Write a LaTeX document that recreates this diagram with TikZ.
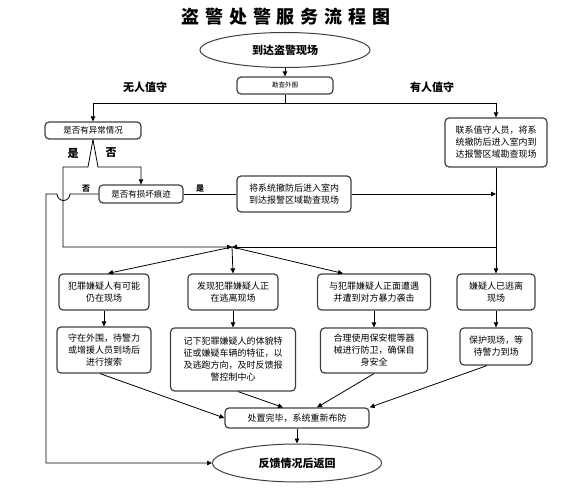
\documentclass[tikz,border=0pt]{standalone}
\usepackage{fontspec}
\setmainfont{Noto Sans CJK SC}
\usetikzlibrary{arrows.meta,shapes.geometric}
\begin{document}
\begin{tikzpicture}[x=1pt,y=-1pt,
  >={Triangle[length=5pt,width=4.5pt]},
  every path/.style={line width=0.8pt},
  box/.style={draw=black!75,line width=1.2pt,rounded corners=4pt,align=center,inner sep=1pt,
    font=\fontsize{9}{12}\selectfont},
  oval/.style={draw=black!75,line width=1pt,ellipse,inner sep=0pt,font=\bfseries\fontsize{11}{13}\selectfont},
  tag/.style={font=\bfseries\fontsize{11}{13}\selectfont},
  small/.style={font=\bfseries\fontsize{8}{10}\selectfont}]
  \useasboundingbox (0,0) rectangle (576,489);
  % title
  \node (title) at (286,17) {\bfseries\fontsize{18}{20}\selectfont\addfontfeature{LetterSpace=33}盗警处警服务流程图};
  % top part
  \node[oval,minimum width=170pt,minimum height=35pt] (start) at (285,50) {到达盗警现场};
  \node[box,minimum width=96pt,minimum height=17pt,font=\fontsize{6.5}{8}\selectfont] (survey) at (285,85.5) {勘查外围};
  \node[tag] (none) at (145,87) {无人值守};
  \node[tag] (guarded) at (432,87) {有人值守};
  \coordinate (split) at (285,103);
  \node[box,minimum width=96pt,minimum height=17pt,font=\fontsize{8.5}{10}\selectfont] (abnormal) at (93,130.5) {是否有异常情况};
  \node[box,minimum width=102pt,minimum height=49pt] (contact) at (496,142.5) {联系值守人员，将系\\统撤防后进入室内到\\达报警区域勘查现场};
  \node[box,minimum width=84pt,minimum height=18pt,font=\fontsize{8.5}{10}\selectfont] (damage) at (141,194) {是否有损坏痕迹};
  \node[box,minimum width=114pt,minimum height=36pt] (disarm) at (294,194) {将系统撤防后进入室内\\到达报警区域勘查现场};
  \node[tag] (yes) at (73,153) {是};
  \node[tag] (no) at (111,153) {否};
  \node[small] (noB) at (86,189) {否};
  \node[small] (yesB) at (200,189) {是};
  \coordinate (forkY) at (88,167);
  \coordinate (forkN) at (98,167);
  \coordinate (yesL) at (63,167);
  \coordinate (hub) at (232,247);
  \coordinate (hopR) at (70,194);
  \coordinate (backL) at (46,194);
  % second row
  \node[box,minimum width=90pt,minimum height=36pt] (maybe) at (104,292) {犯罪嫌疑人有可能\\仍在现场};
  \node[box,minimum width=90pt,minimum height=36pt] (flee) at (233,292) {发现犯罪嫌疑人正\\在逃离现场};
  \node[box,minimum width=113pt,minimum height=36pt] (clash) at (374,292) {与犯罪嫌疑人正面遭遇\\并遭到对方暴力袭击};
  \node[box,minimum width=78pt,minimum height=36pt] (gone) at (496,292) {嫌疑人已逃离\\现场};
  % third row
  \node[box,minimum width=94pt,minimum height=46pt] (guard) at (104,350) {守在外围，待警力\\或增援人员到场后\\进行搜索};
  \node[box,minimum width=125pt,minimum height=63pt] (record) at (233,359.5) {记下犯罪嫌疑人的体貌特\\征或嫌疑车辆的特征，以\\及逃跑方向，及时反馈报\\警控制中心};
  \node[box,minimum width=107pt,minimum height=45pt] (defend) at (374,350.5) {合理使用保安棍等器\\械进行防卫，确保自\\身安全};
  \node[box,minimum width=72pt,minimum height=37pt] (protect) at (496,346.5) {保护现场，等\\待警力到场};
  % bottom
  \node[box,minimum width=144pt,minimum height=20pt] (done) at (297,418) {处置完毕，系统重新布防};
  \node[oval,minimum width=169pt,minimum height=38pt] (finish) at (297,463) {反馈情况后返回};
  % connectors
  \draw[->] (start) -- (survey);
  \draw[->] (survey.south) -- (split) -| (abnormal.north);
  \draw[->] (split) -| (contact.north);
  \draw[->] (abnormal.south) -- (forkY) -- (yesL) |- (hub);
  \draw[->] (abnormal.south) -- (forkN) -| (damage.north);
  \draw[->] (damage.west) -- (hopR) arc[start angle=0,end angle=180,radius=6.5] -- (backL) |- (finish.west);
  \draw (damage.east) -- (disarm.west);
  \draw[->] (disarm.east) -- (disarm.east -| contact.south);
  \draw[->] (contact.south) -- (gone.north);
  \draw[->] (contact.south |- hub) -- (hub);
  \draw[->] (hub) -- ([xshift=4pt]maybe.north);
  \draw[->] (hub) -- (flee.north);
  \draw[->] (hub) -- ([xshift=-31pt]clash.north);
  \draw[->] (maybe) -- (guard);
  \draw[->] (flee) -- (record);
  \draw[->] (clash) -- (defend);
  \draw[->] (gone) -- (protect);
  \draw[->] ([xshift=-4pt]guard.south) -- (done.west);
  \draw[->] ([xshift=5pt]record.south) -- ([xshift=-14pt]done.north);
  \draw[->] (defend.south) -- ([xshift=20pt]done.north);
  \draw[->] ([xshift=-9pt]protect.south) -- (done.north east);
  \draw[->] (done) -- (finish);
\end{tikzpicture}
\end{document}
